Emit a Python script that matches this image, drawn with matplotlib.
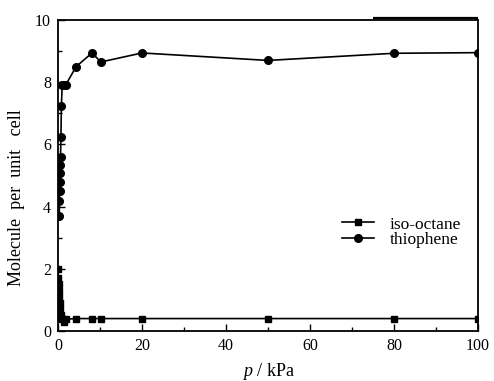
import matplotlib
matplotlib.use("Agg")
import matplotlib.pyplot as plt
from matplotlib.ticker import MultipleLocator

plt.rcParams['font.family'] = ['Liberation Serif', 'DejaVu Serif']
plt.rcParams['mathtext.fontset'] = 'custom'
plt.rcParams['mathtext.it'] = 'Liberation Serif:italic'
plt.rcParams['mathtext.rm'] = 'Liberation Serif'

# Data
iso_p = [0.05, 0.1, 0.15, 0.2, 0.3, 0.4, 0.5, 0.6, 0.8, 1.0, 1.5, 2, 4.3, 8.1, 10.2, 20, 50, 80, 100]
iso_n = [2.0, 1.7, 1.5, 1.3, 1.1, 0.9, 0.7, 0.5, 0.42, 0.38, 0.3, 0.38, 0.4, 0.4, 0.4, 0.4, 0.4, 0.4, 0.4]
th_p = [0.3, 0.35, 0.4, 0.45, 0.5, 0.55, 0.6, 0.7, 0.8, 1.0, 1.2, 1.8, 4.3, 8.1, 10.2, 20, 50, 80, 100]
th_n = [3.7, 4.17, 4.5, 4.8, 5.07, 5.35, 5.6, 6.25, 7.23, 7.9, 7.9, 7.9, 8.5, 8.94, 8.65, 8.94, 8.7, 8.93, 8.95]
labels = ['iso-octane', 'thiophene']

fig = plt.figure(figsize=(4.94, 3.81), dpi=100)
ax = fig.add_axes([58/494, 1-331/381, 420/494, 311/381])

ax.plot(iso_p, iso_n, '-s', color='black', lw=1.2, ms=4.5, label=labels[0])
ax.plot(th_p, th_n, '-o', color='black', lw=1.2, ms=5.5, label=labels[1])

ax.set_xlim(0, 100)
ax.set_ylim(0, 10)
ax.xaxis.set_major_locator(MultipleLocator(20))
ax.xaxis.set_minor_locator(MultipleLocator(10))
ax.yaxis.set_major_locator(MultipleLocator(2))
ax.yaxis.set_minor_locator(MultipleLocator(1))
ax.tick_params(which='both', direction='in', top=False, right=False, labelsize=11.5, width=1)
ax.tick_params(which='major', length=5, pad=5)
ax.tick_params(which='minor', length=3)
for s in ax.spines.values():
    s.set_linewidth(1.3)
# slightly heavier stroke on right part of top frame, as in the reference
ax.plot([75, 100], [10.06, 10.06], color='black', lw=1.6, clip_on=False,
        solid_capstyle='butt')

ax.set_xlabel('$p$ / kPa', fontsize=13, labelpad=5)
ax.set_ylabel('Molecule  per  unit   cell', fontsize=13)
ax.yaxis.set_label_coords(-0.078, 0.43)

ax.legend(loc='center left', bbox_to_anchor=(0.676, 0.318), frameon=False,
          fontsize=12.5, borderpad=0, labelspacing=-0.05, handlelength=1.85,
          handletextpad=0.9, borderaxespad=0)

fig.savefig('out.png', dpi=100)
